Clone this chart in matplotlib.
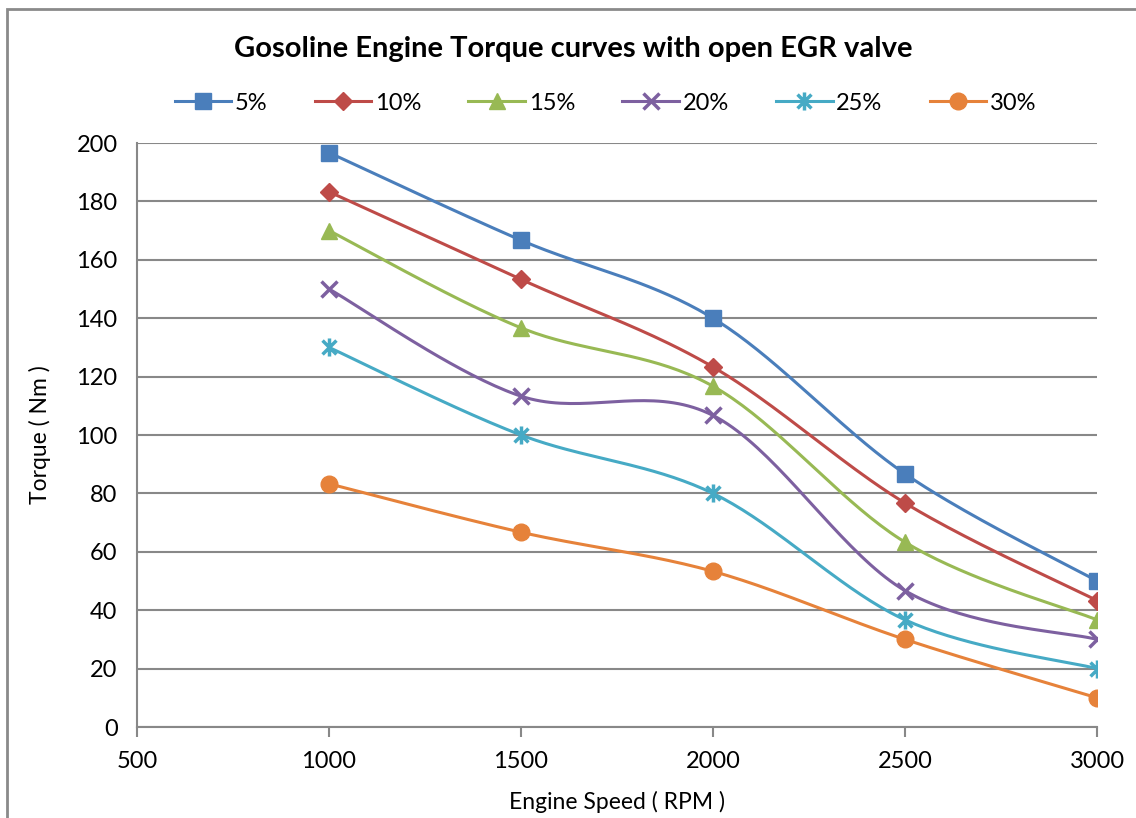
import numpy as np
import matplotlib
matplotlib.use("Agg")
import matplotlib.pyplot as plt
from matplotlib.path import Path
from matplotlib.patches import Rectangle

plt.rcParams['font.family'] = ['Lato', 'DejaVu Sans']

# --- DATEN ---
rpm = [1000, 1500, 2000, 2500, 3000]
labels = ["5%", "10%", "15%", "20%", "25%", "30%"]
t05 = [196.7, 166.7, 140.0, 86.7, 50.0]
t10 = [183.3, 153.3, 123.3, 76.7, 43.3]
t15 = [170.0, 136.7, 116.7, 63.3, 36.7]
t20 = [150.0, 113.3, 106.7, 46.7, 30.0]
t25 = [130.0, 100.0, 80.0, 36.7, 20.0]
t30 = [83.3, 66.7, 53.3, 30.0, 10.0]
series = [t05, t10, t15, t20, t25, t30]

colors = ["#4A7EBB", "#BE4B48", "#98B954", "#7D60A0", "#46AAC5", "#E6823A"]

# Excel-Stern: x mit senkrechtem Strich
star = Path([(-1, -1), (1, 1), (-1, 1), (1, -1), (0, -1.3), (0, 1.3)],
            [Path.MOVETO, Path.LINETO, Path.MOVETO, Path.LINETO, Path.MOVETO, Path.LINETO])
markers = ["s", "D", "^", "x", star, "o"]
msizes = [11, 9, 11, 11, 13, 12]

fig = plt.figure(figsize=(11.36, 8.18), dpi=100)
ax = fig.add_axes([137 / 1136, 1 - 727 / 818, (1097 - 137) / 1136, (727 - 143) / 818])

ax.set_xlim(500, 3000)
ax.set_ylim(0, 200)
W = 960.0
H = 584.0


def smooth(xs, ys, n=40):
    # Excel-artige Glaettung (Catmull-Rom / Bezier) im Pixelraum
    px = (np.array(xs) - 500) / 2500 * W
    py = np.array(ys) / 200 * H
    pts = np.column_stack([px, py])
    out = []
    for i in range(len(pts) - 1):
        p0 = pts[i - 1] if i > 0 else pts[i]
        p1 = pts[i]
        p2 = pts[i + 1]
        p3 = pts[i + 2] if i + 2 < len(pts) else pts[i + 1]
        c1 = p1 + (p2 - p0) / 6
        c2 = p2 - (p3 - p1) / 6
        t = np.linspace(0, 1, n)[:, None]
        seg = (1 - t) ** 3 * p1 + 3 * (1 - t) ** 2 * t * c1 + 3 * (1 - t) * t ** 2 * c2 + t ** 3 * p2
        out.append(seg if i == 0 else seg[1:])
    seg = np.vstack(out)
    return seg[:, 0] / W * 2500 + 500, seg[:, 1] / H * 200


handles = []
for ys, c, m, ms, lab in zip(series, colors, markers, msizes, labels):
    sx, sy = smooth(rpm, ys)
    ax.plot(sx, sy, color=c, lw=2.2, zorder=3)
    mew = 2.5 if (m == "x" or m is star) else 1
    ax.plot(rpm, ys, linestyle="none", marker=m, ms=ms, color=c, mew=mew, zorder=4)
    h, = ax.plot([], [], color=c, lw=2.2, marker=m, ms=ms, mew=mew, label=lab)
    handles.append(h)

ax.set_xticks(range(500, 3001, 500))
ax.set_yticks(range(0, 201, 20))
ax.grid(True, axis="y", color="#888888", lw=1.5)
ax.set_axisbelow(True)
for s in ["top", "right"]:
    ax.spines[s].set_visible(False)
for s in ["left", "bottom"]:
    ax.spines[s].set_color("#888888")
    ax.spines[s].set_linewidth(1.5)
ax.tick_params(axis="x", direction="out", length=7, width=1.5, color="#888888",
               labelsize=17, pad=10)
ax.tick_params(axis="y", length=0, labelsize=17, pad=14)

ax.set_xlabel("Engine Speed ( RPM )", fontsize=16.5, labelpad=14)
ax.set_ylabel("Torque ( Nm )", fontsize=16.5, labelpad=18)

fig.text(0.505, 1 - 49 / 818, "Gosoline Engine Torque curves with open EGR valve",
         ha="center", va="center", fontsize=21, fontweight="bold")
fig.legend(handles=handles, loc="center", bbox_to_anchor=(0.533, 1 - 103 / 818), ncol=6,
           frameon=False, fontsize=17, handlelength=2.4, columnspacing=2.0, handletextpad=0.15)

# Rahmen des Diagrammbereichs
fig.patches.append(Rectangle((7 / 1136, -0.05), 1.1, 1 - 9 / 818 + 0.05, transform=fig.transFigure,
                             fill=False, edgecolor="#8a8a8a", lw=2))

fig.savefig("out.png", dpi=100)
